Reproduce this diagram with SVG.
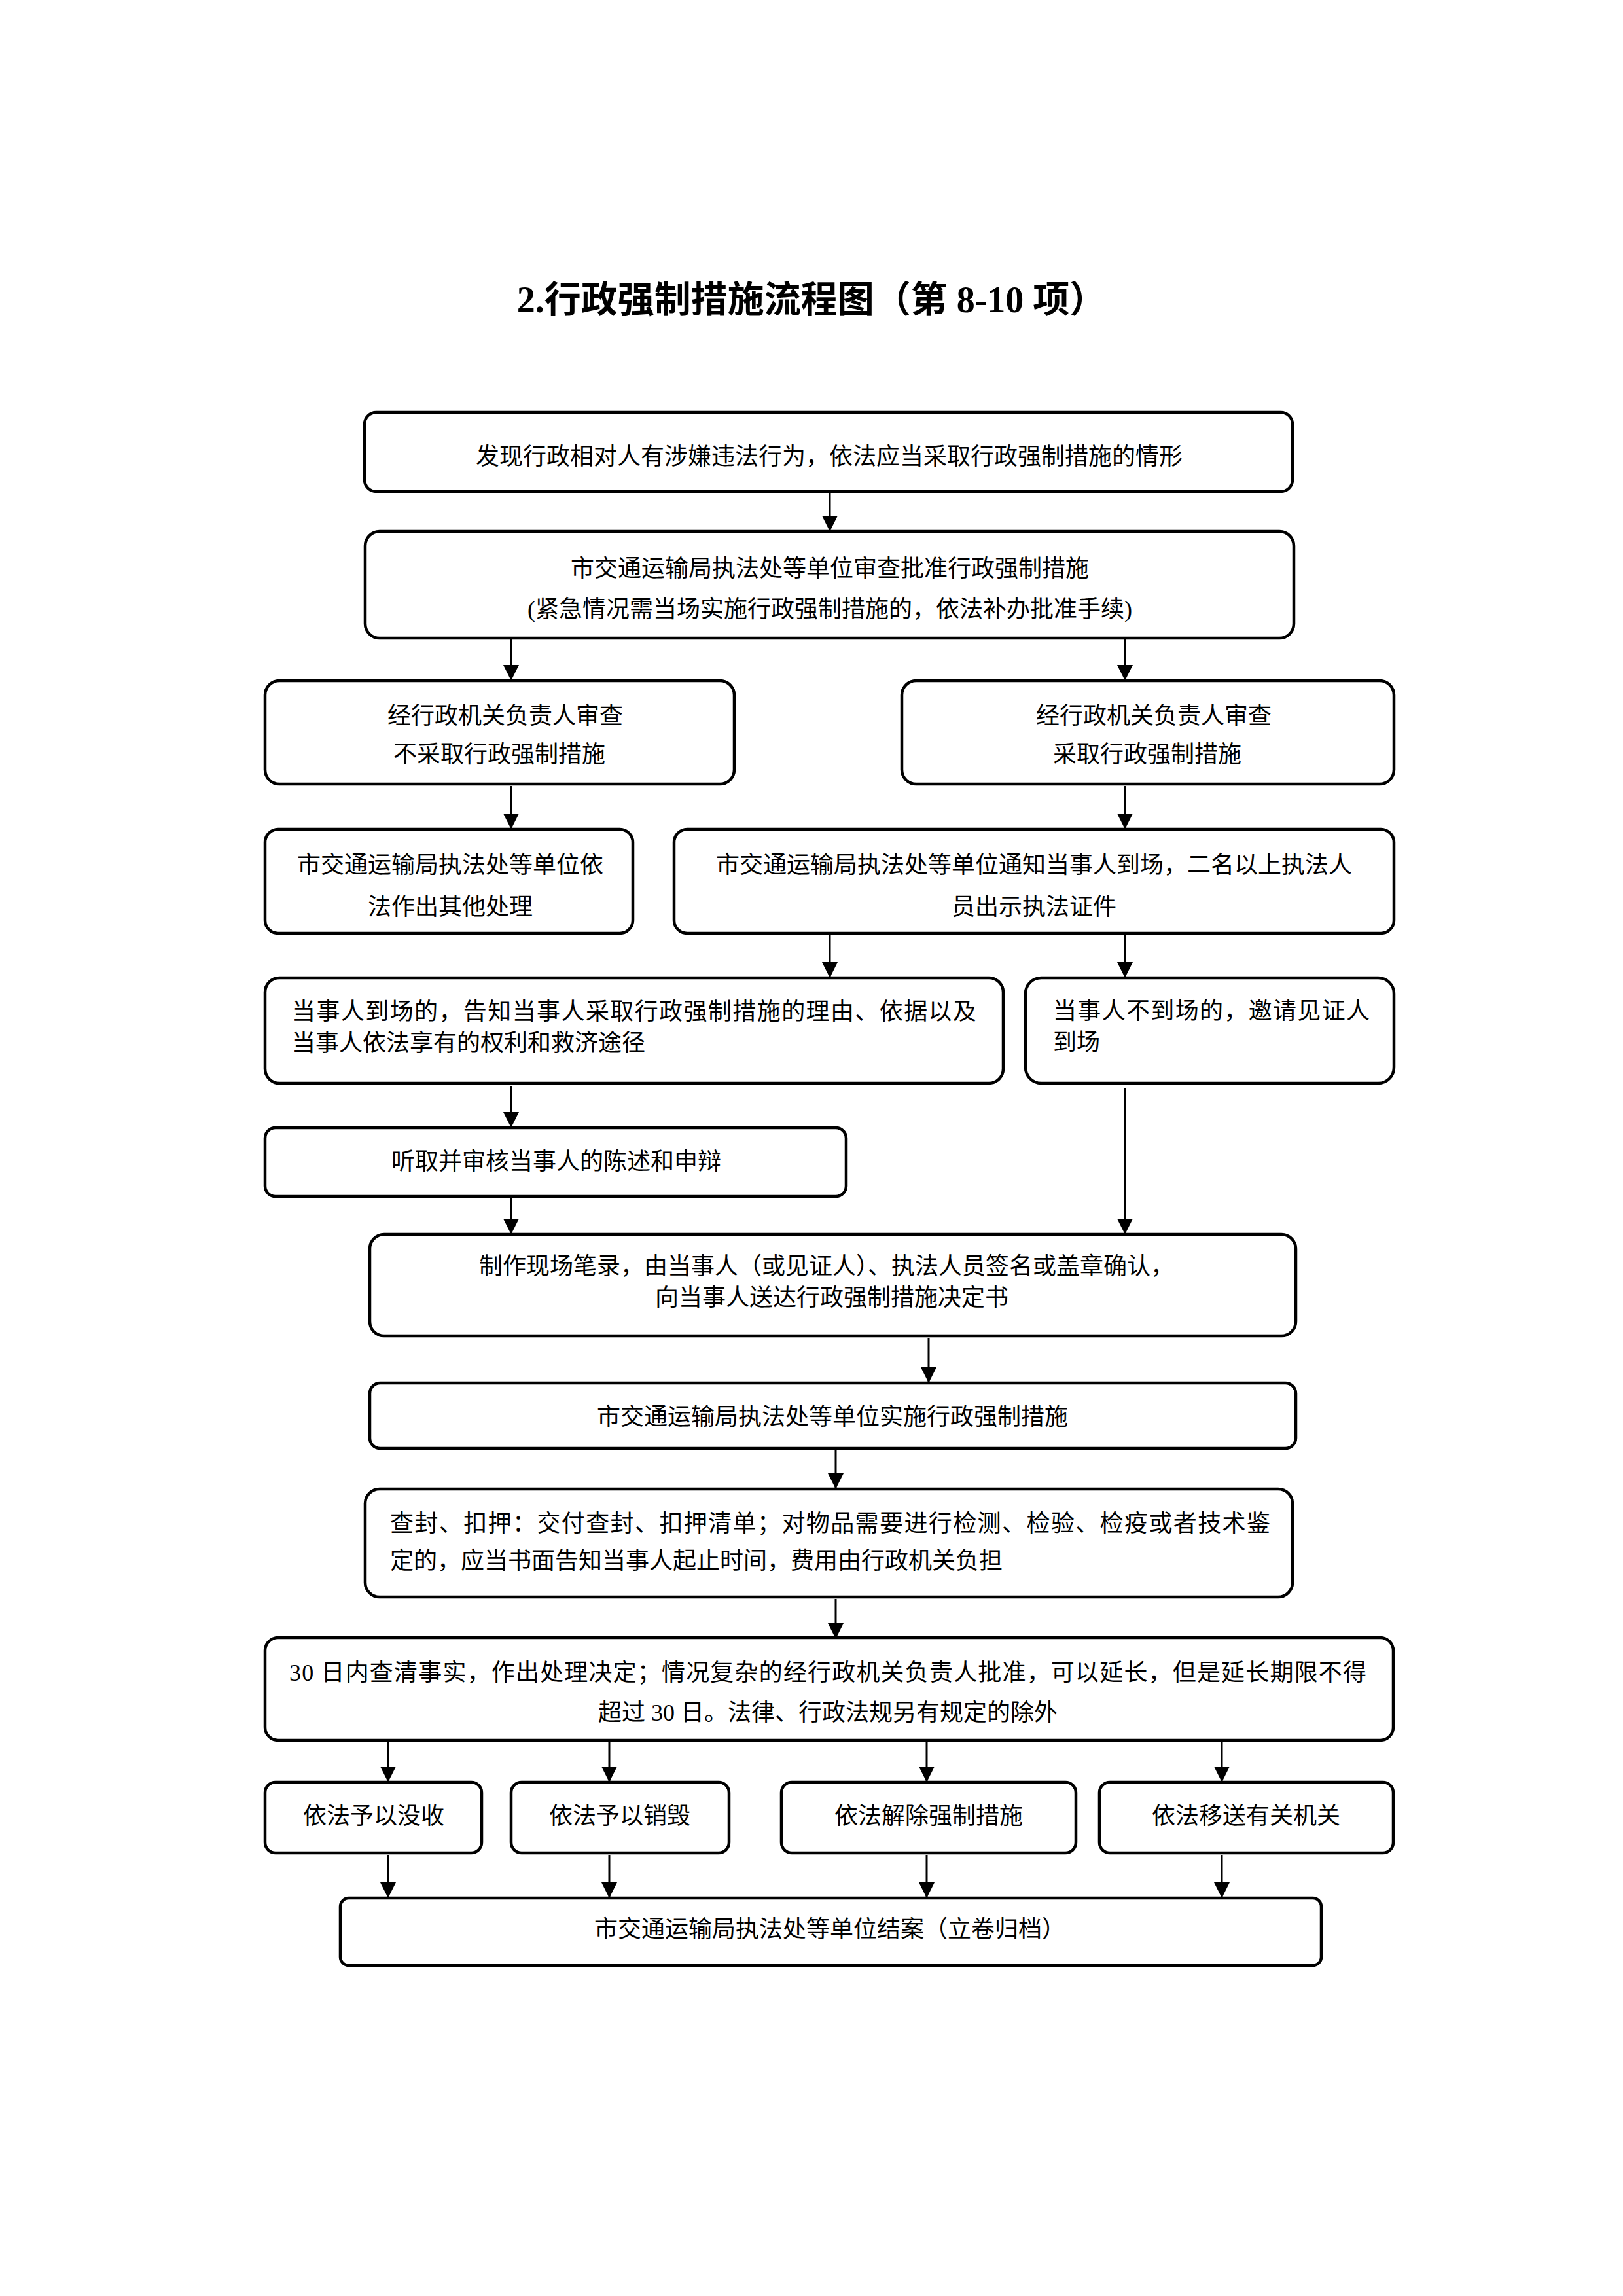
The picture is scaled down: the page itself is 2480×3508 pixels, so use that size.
<svg xmlns="http://www.w3.org/2000/svg" width="2480" height="3508" viewBox="0 0 2480 3508">
<style>
.box{fill:#fff;stroke:#000;stroke-width:4.5}
.t{font-family:"Liberation Serif","Noto Sans CJK SC",serif;font-size:36px;fill:#000;dominant-baseline:central}
.c{text-anchor:middle}
.ttl{font-family:"Liberation Serif","Noto Sans CJK SC",serif;font-size:56px;font-weight:bold;fill:#000;text-anchor:middle}
.ln{stroke:#000;stroke-width:3;fill:none;marker-end:url(#ah)}
</style>
<defs>
<marker id="ah" markerUnits="userSpaceOnUse" markerWidth="24" markerHeight="24" viewBox="0 0 24 24" refX="24" refY="12" orient="auto">
<path d="M0,0 L24,12 L0,24 Z" fill="#000"/>
</marker>
</defs>
<rect width="2480" height="3508" fill="#fff"/>
<text class="ttl" x="1240" y="477">2.行政强制措施流程图（第 8-10 项）</text>

<g id="connectors">
<line class="ln" x1="1268" y1="753" x2="1268" y2="812"/>
<line class="ln" x1="781" y1="977" x2="781" y2="1040"/>
<line class="ln" x1="1719" y1="977" x2="1719" y2="1040"/>
<line class="ln" x1="781" y1="1201" x2="781" y2="1267"/>
<line class="ln" x1="1719" y1="1201" x2="1719" y2="1267"/>
<line class="ln" x1="1268" y1="1429" x2="1268" y2="1494"/>
<line class="ln" x1="1719" y1="1429" x2="1719" y2="1494"/>
<line class="ln" x1="781" y1="1659" x2="781" y2="1723"/>
<line class="ln" x1="781" y1="1831" x2="781" y2="1886"/>
<line class="ln" x1="1719" y1="1663" x2="1719" y2="1886"/>
<line class="ln" x1="1419" y1="2044" x2="1419" y2="2113"/>
<line class="ln" x1="1277" y1="2216" x2="1277" y2="2275"/>
<line class="ln" x1="1277" y1="2443" x2="1277" y2="2504"/>
<line class="ln" x1="593" y1="2662" x2="593" y2="2723"/>
<line class="ln" x1="931" y1="2662" x2="931" y2="2723"/>
<line class="ln" x1="1416" y1="2662" x2="1416" y2="2723"/>
<line class="ln" x1="1867" y1="2662" x2="1867" y2="2723"/>
<line class="ln" x1="593" y1="2834" x2="593" y2="2900"/>
<line class="ln" x1="931" y1="2834" x2="931" y2="2900"/>
<line class="ln" x1="1416" y1="2834" x2="1416" y2="2900"/>
<line class="ln" x1="1867" y1="2834" x2="1867" y2="2900"/>
</g>

<g id="n1">
<rect class="box" x="557" y="630" width="1418" height="121" rx="18"/>
<text class="t c" x="1267" y="698">发现行政相对人有涉嫌违法行为，依法应当采取行政强制措施的情形</text>
</g>
<g id="n2">
<rect class="box" x="558" y="812" width="1419" height="163" rx="22"/>
<text class="t c" x="1268" y="869">市交通运输局执法处等单位审查批准行政强制措施</text>
<text class="t c" x="1268" y="931">(紧急情况需当场实施行政强制措施的，依法补办批准手续)</text>
</g>
<g id="n3l">
<rect class="box" x="405" y="1040" width="717" height="158" rx="22"/>
<text class="t c" x="772" y="1094">经行政机关负责人审查</text>
<text class="t c" x="763" y="1153">不采取行政强制措施</text>
</g>
<g id="n3r">
<rect class="box" x="1378" y="1040" width="752" height="158" rx="22"/>
<text class="t c" x="1763" y="1094">经行政机关负责人审查</text>
<text class="t c" x="1753" y="1153">采取行政强制措施</text>
</g>
<g id="n4l">
<rect class="box" x="405" y="1267" width="562" height="159" rx="20"/>
<text class="t c" x="688" y="1322">市交通运输局执法处等单位依</text>
<text class="t c" x="688" y="1386">法作出其他处理</text>
</g>
<g id="n4r">
<rect class="box" x="1030" y="1267" width="1100" height="159" rx="20"/>
<text class="t c" x="1580" y="1322">市交通运输局执法处等单位通知当事人到场，二名以上执法人</text>
<text class="t c" x="1580" y="1386">员出示执法证件</text>
</g>
<g id="n5l">
<rect class="box" x="405" y="1494" width="1128" height="161" rx="22"/>
<text class="t" x="446" y="1546" textLength="1046" lengthAdjust="spacing">当事人到场的，告知当事人采取行政强制措施的理由、依据以及</text>
<text class="t" x="446" y="1594">当事人依法享有的权利和救济途径</text>
</g>
<g id="n5r">
<rect class="box" x="1567" y="1494" width="563" height="161" rx="24"/>
<text class="t" x="1609" y="1545" textLength="484" lengthAdjust="spacing">当事人不到场的，邀请见证人</text>
<text class="t" x="1609" y="1593">到场</text>
</g>
<g id="n6">
<rect class="box" x="405" y="1723" width="888" height="105" rx="16"/>
<text class="t c" x="850" y="1775">听取并审核当事人的陈述和申辩</text>
</g>
<g id="n7">
<rect class="box" x="565" y="1886" width="1415" height="155" rx="22"/>
<text class="t c" x="1263" y="1935">制作现场笔录，由当事人（或见证人）、执法人员签名或盖章确认，</text>
<text class="t c" x="1271" y="1983">向当事人送达行政强制措施决定书</text>
</g>
<g id="n8">
<rect class="box" x="565" y="2113" width="1415" height="100" rx="16"/>
<text class="t c" x="1272" y="2165">市交通运输局执法处等单位实施行政强制措施</text>
</g>
<g id="n9">
<rect class="box" x="558" y="2275" width="1417" height="165" rx="22"/>
<text class="t" x="596" y="2328" textLength="1345" lengthAdjust="spacing">查封、扣押：交付查封、扣押清单；对物品需要进行检测、检验、检疫或者技术鉴</text>
<text class="t" x="596" y="2385">定的，应当书面告知当事人起止时间，费用由行政机关负担</text>
</g>
<g id="n10">
<rect class="box" x="405" y="2502" width="1724" height="157" rx="20"/>
<text class="t" x="442" y="2556" textLength="1646" lengthAdjust="spacing">30 日内查清事实，作出处理决定；情况复杂的经行政机关负责人批准，可以延长，但是延长期限不得</text>
<text class="t c" x="1265" y="2617">超过 30 日。法律、行政法规另有规定的除外</text>
</g>
<g id="n11a">
<rect class="box" x="405" y="2723" width="331" height="108" rx="16"/>
<text class="t c" x="571" y="2775">依法予以没收</text>
</g>
<g id="n11b">
<rect class="box" x="781" y="2723" width="333" height="108" rx="16"/>
<text class="t c" x="947" y="2775">依法予以销毁</text>
</g>
<g id="n11c">
<rect class="box" x="1194" y="2723" width="450" height="108" rx="16"/>
<text class="t c" x="1419" y="2775">依法解除强制措施</text>
</g>
<g id="n11d">
<rect class="box" x="1680" y="2723" width="449" height="108" rx="16"/>
<text class="t c" x="1904" y="2775">依法移送有关机关</text>
</g>
<g id="n12">
<rect class="box" x="520" y="2900" width="1499" height="103" rx="13"/>
<text class="t c" x="1268" y="2948">市交通运输局执法处等单位结案（立卷归档）</text>
</g>
</svg>
